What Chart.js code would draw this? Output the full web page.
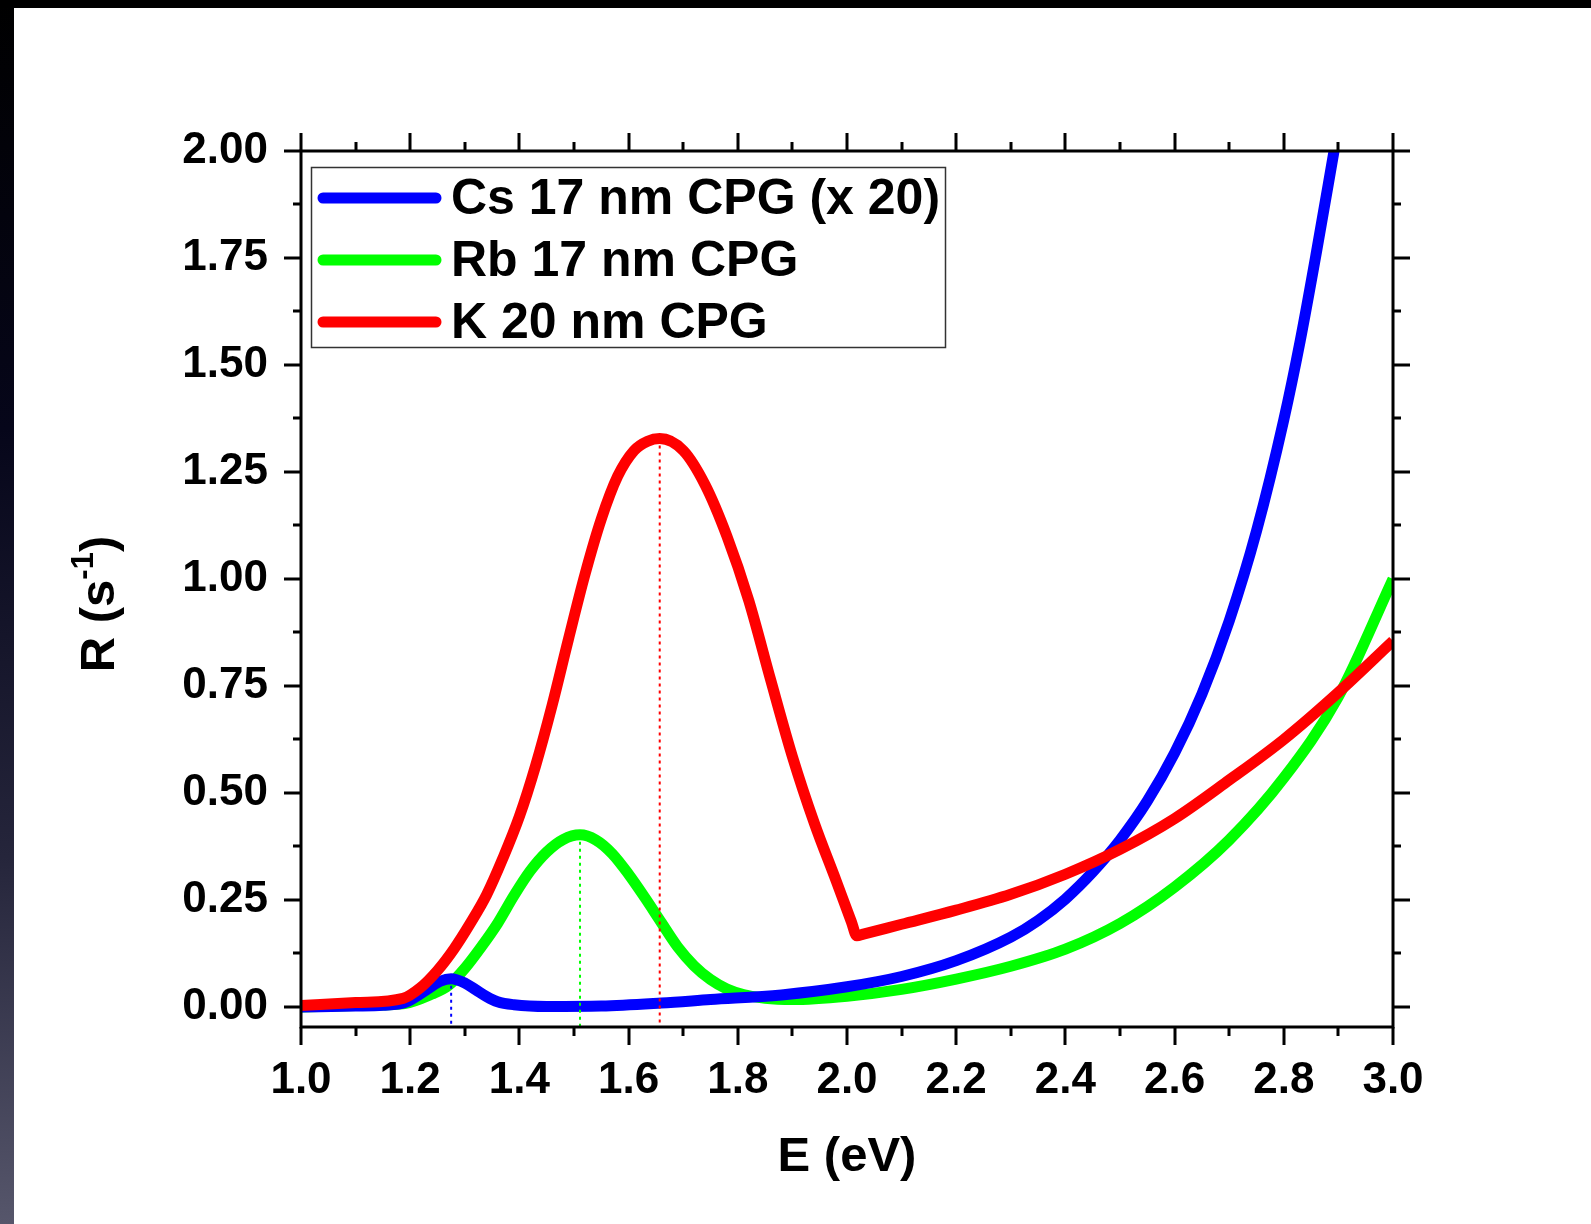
<!DOCTYPE html>
<html>
<head>
<meta charset="utf-8">
<title>R vs E</title>
<script src="https://cdn.jsdelivr.net/npm/chart.js@4/dist/chart.umd.min.js"></script>
<style>
    html, body { margin: 0; padding: 0; }
    body {
        width: 1591px;
        height: 1224px;
        overflow: hidden;
        position: relative;
        background: linear-gradient(to bottom, #000 0%, #06061a 35%, #25253b 70%, #56566b 100%);
    }
    #top-band { position: absolute; left: 0; top: 0; width: 1591px; height: 8px; background: #000; }
    #wrap { position: absolute; left: 14px; top: 8px; width: 1577px; height: 1216px; background: #fff; }
</style>
</head>
<body>
<div id="top-band"></div>
<div id="wrap"><canvas id="chart" width="1577" height="1216"></canvas></div>
<script>
// Tick labels
const xTicks = [1.0, 1.2, 1.4, 1.6, 1.8, 2.0, 2.2, 2.4, 2.6, 2.8, 3.0];
const yTicks = [0.00, 0.25, 0.50, 0.75, 1.00, 1.25, 1.50, 1.75, 2.00];
const Y_MIN = -0.047;

// Series labels
const seriesLabels = ['Cs 17 nm CPG (x 20)', 'Rb 17 nm CPG', 'K 20 nm CPG'];
const seriesColors = ['#0000ff', '#00ff00', '#ff0000'];

// Cs 17 nm CPG (x 20)
const csE = [1.00, 1.10, 1.15, 1.19, 1.23, 1.255, 1.275, 1.30, 1.32, 1.34, 1.36, 1.39, 1.45, 1.55, 1.66, 1.75, 1.88, 2.00, 2.10, 2.20, 2.30, 2.35, 2.40, 2.45, 2.50, 2.55, 2.60, 2.65, 2.70, 2.75, 2.80, 2.83, 2.86, 2.892];
const csR = [0.000, 0.002, 0.004, 0.010, 0.040, 0.060, 0.066, 0.056, 0.040, 0.024, 0.012, 0.005, 0.001, 0.002, 0.009, 0.017, 0.028, 0.047, 0.071, 0.108, 0.163, 0.202, 0.252, 0.315, 0.390, 0.481, 0.593, 0.731, 0.902, 1.112, 1.372, 1.556, 1.765, 2.000];

// Rb 17 nm CPG
const rbE = [1.00, 1.10, 1.19, 1.24, 1.27, 1.30, 1.33, 1.36, 1.39, 1.42, 1.45, 1.48, 1.511, 1.54, 1.57, 1.60, 1.63, 1.66, 1.69, 1.72, 1.75, 1.78, 1.81, 1.85, 1.90, 2.00, 2.10, 2.20, 2.30, 2.40, 2.50, 2.60, 2.70, 2.80, 2.90, 3.00];
const rbR = [0.000, 0.003, 0.008, 0.030, 0.050, 0.090, 0.140, 0.195, 0.260, 0.318, 0.362, 0.391, 0.402, 0.390, 0.358, 0.310, 0.255, 0.197, 0.140, 0.096, 0.064, 0.042, 0.029, 0.020, 0.017, 0.025, 0.041, 0.065, 0.095, 0.135, 0.195, 0.280, 0.390, 0.535, 0.725, 1.000];

// K 20 nm CPG
const kE = [1.00, 1.10, 1.187, 1.218, 1.25, 1.28, 1.31, 1.34, 1.37, 1.40, 1.43, 1.46, 1.49, 1.52, 1.55, 1.58, 1.61, 1.635, 1.657, 1.70, 1.74, 1.78, 1.82, 1.86, 1.90, 1.94, 1.98, 2.008, 2.018, 2.03, 2.10, 2.20, 2.30, 2.40, 2.50, 2.60, 2.70, 2.80, 2.90, 3.00];
const kR = [0.003, 0.010, 0.020, 0.044, 0.085, 0.135, 0.195, 0.262, 0.348, 0.445, 0.565, 0.705, 0.860, 1.010, 1.140, 1.240, 1.300, 1.322, 1.328, 1.300, 1.220, 1.100, 0.950, 0.765, 0.585, 0.430, 0.295, 0.199, 0.166, 0.170, 0.193, 0.226, 0.263, 0.310, 0.368, 0.440, 0.530, 0.625, 0.735, 0.855];

// Peak markers (dotted drop lines)
const peakE = [1.275, 1.511, 1.657];
const peakR = [0.066, 0.402, 1.328];

const FONT = "'Liberation Sans', Arial, Helvetica, sans-serif";

function toPoints(xs, ys) {
    return xs.map((x, i) => ({ x: x, y: ys[i] }));
}

function curve(idx, xs, ys, order) {
    return {
        label: seriesLabels[idx],
        data: toPoints(xs, ys),
        borderColor: seriesColors[idx],
        borderWidth: 11,
        pointRadius: 0,
        showLine: true,
        fill: false,
        cubicInterpolationMode: 'monotone',
        borderJoinStyle: 'round',
        clip: 0,
        order: order
    };
}

function dropLine(idx) {
    return {
        label: 'peak-' + idx,
        isMarker: true,
        data: [{ x: peakE[idx], y: peakR[idx] }, { x: peakE[idx], y: Y_MIN }],
        borderColor: seriesColors[idx],
        borderWidth: 2,
        borderDash: [3, 4],
        pointRadius: 0,
        showLine: true,
        fill: false,
        clip: 0,
        order: -1
    };
}

// Frame with major and minor ticks on all four sides
const framePlugin = {
    id: 'frame',
    afterDraw(chart) {
        const { ctx, chartArea: a, scales } = chart;
        const xs = scales.x, ys = scales.y;
        ctx.save();
        ctx.strokeStyle = '#000';
        ctx.lineWidth = 3;
        ctx.lineCap = 'butt';
        ctx.strokeRect(a.left, a.top, a.right - a.left, a.bottom - a.top);

        ctx.beginPath();
        xTicks.forEach((v, i) => {
            const px = Math.round(xs.getPixelForValue(v));
            ctx.moveTo(px, a.bottom); ctx.lineTo(px, a.bottom + 18);
            ctx.moveTo(px, a.top); ctx.lineTo(px, a.top - 18);
            if (i < xTicks.length - 1) {
                const mx = Math.round(xs.getPixelForValue((v + xTicks[i + 1]) / 2));
                ctx.moveTo(mx, a.bottom); ctx.lineTo(mx, a.bottom + 9);
                ctx.moveTo(mx, a.top); ctx.lineTo(mx, a.top - 9);
            }
        });
        yTicks.forEach((v, i) => {
            const py = Math.round(ys.getPixelForValue(v));
            ctx.moveTo(a.left, py); ctx.lineTo(a.left - 17, py);
            ctx.moveTo(a.right, py); ctx.lineTo(a.right + 17, py);
            if (i < yTicks.length - 1) {
                const my = Math.round(ys.getPixelForValue((v + yTicks[i + 1]) / 2));
                ctx.moveTo(a.left, my); ctx.lineTo(a.left - 8, my);
                ctx.moveTo(a.right, my); ctx.lineTo(a.right + 8, my);
            }
        });
        ctx.stroke();

        // y axis title with superscript
        ctx.translate(84, 596);
        ctx.rotate(-Math.PI / 2);
        ctx.fillStyle = '#000';
        ctx.textBaseline = 'middle';
        ctx.textAlign = 'left';
        const big = 'bold 49px ' + FONT, small = 'bold 31px ' + FONT;
        ctx.font = big;
        const w1 = ctx.measureText('R (s').width;
        const w3 = ctx.measureText(')').width;
        ctx.font = small;
        const w2 = ctx.measureText('-1').width;
        let x0 = -(w1 + w2 + w3) / 2;
        ctx.font = big;
        ctx.fillText('R (s', x0, 2);
        ctx.font = small;
        ctx.fillText('-1', x0 + w1, -14);
        ctx.font = big;
        ctx.fillText(')', x0 + w1 + w2, 2);
        ctx.restore();
    }
};

// Legend box inside the plot area
const legendBoxPlugin = {
    id: 'legendBox',
    afterDatasetsDraw(chart) {
        const { ctx } = chart;
        const box = { x: 297.5, y: 159.5, w: 634, h: 180 };
        ctx.save();
        ctx.fillStyle = '#fff';
        ctx.fillRect(box.x, box.y, box.w, box.h);
        ctx.strokeStyle = '#333';
        ctx.lineWidth = 1.5;
        ctx.strokeRect(box.x, box.y, box.w, box.h);

        ctx.font = 'bold 50px ' + FONT;
        ctx.textBaseline = 'middle';
        ctx.fillStyle = '#000';
        chart.data.datasets.filter(d => !d.isMarker).forEach((d, i) => {
            const y = 190 + i * 62;
            ctx.strokeStyle = d.borderColor;
            ctx.lineWidth = 11;
            ctx.lineCap = 'round';
            ctx.beginPath();
            ctx.moveTo(309, y);
            ctx.lineTo(422, y);
            ctx.stroke();
            ctx.fillText(d.label, 437, y + 2);
        });
        ctx.restore();
    }
};

const ctx = document.getElementById('chart').getContext('2d');
new Chart(ctx, {
    type: 'scatter',
    data: {
        datasets: [
            curve(0, csE, csR, 1),
            curve(1, rbE, rbR, 2),
            curve(2, kE, kR, 0),
            dropLine(0),
            dropLine(1),
            dropLine(2)
        ]
    },
    options: {
        responsive: false,
        devicePixelRatio: 1,
        animation: false,
        layout: { padding: { top: 143, right: 198, bottom: 0, left: 0 } },
        plugins: {
            legend: { display: false },
            tooltip: { enabled: false }
        },
        scales: {
            x: {
                type: 'linear',
                position: 'bottom',
                min: 1,
                max: 3,
                afterBuildTicks: scale => { scale.ticks = xTicks.map(v => ({ value: v })); },
                afterFit: scale => { scale.height = 197; },
                ticks: {
                    callback: v => v.toFixed(1),
                    font: { family: FONT, size: 44, weight: 'bold' },
                    color: '#000',
                    padding: 27,
                    maxRotation: 0,
                    autoSkip: false
                },
                grid: { display: false, drawTicks: false },
                border: { display: false },
                title: {
                    display: true,
                    text: 'E (eV)',
                    color: '#000',
                    font: { family: FONT, size: 49, weight: 'bold' },
                    padding: { top: 0, bottom: 37 }
                }
            },
            y: {
                type: 'linear',
                min: Y_MIN,
                max: 2,
                afterBuildTicks: scale => { scale.ticks = yTicks.map(v => ({ value: v })); },
                afterFit: scale => { scale.width = 287; },
                ticks: {
                    callback: v => v.toFixed(2),
                    font: { family: FONT, size: 44, weight: 'bold' },
                    color: '#000',
                    padding: 33,
                    autoSkip: false
                },
                grid: { display: false, drawTicks: false },
                border: { display: false }
            }
        }
    },
    plugins: [framePlugin, legendBoxPlugin]
});
</script>
</body>
</html>
